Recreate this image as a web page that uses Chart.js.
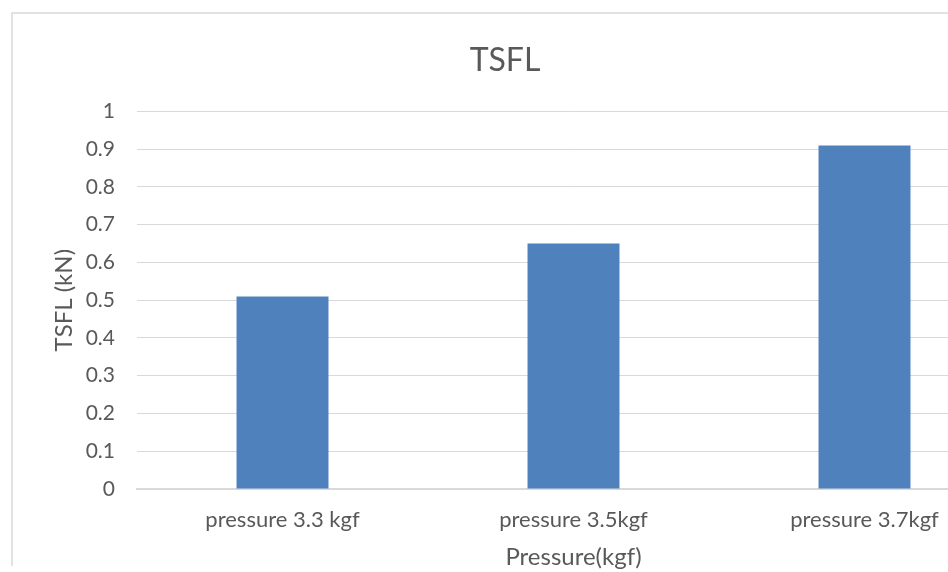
<!DOCTYPE html>
<html>
<head>
<meta charset="utf-8">
<script src="https://cdn.jsdelivr.net/npm/chart.js@4/dist/chart.umd.min.js"></script>
<style>
  html, body { margin: 0; padding: 0; background: #fff; overflow: hidden; }
  #wrap { width: 948px; height: 572px; overflow: hidden; }
</style>
</head>
<body>
<div id="wrap"><canvas id="chart" width="1030" height="572"></canvas></div>
<script>
// --- data ---
const categories = ["pressure 3.3 kgf", "pressure 3.5kgf", "pressure 3.7kgf"];
const tsfl = [0.51, 0.65, 0.91];
const yMin = 0;
const yMax = 1;
const yStep = 0.1;

const TEXT = "#595959";
const GRID = "#d9d9d9";
const FONT = "Lato";

// chart frame (Excel-like border, only top + left visible in crop)
const frame = {
  id: "frame",
  beforeDraw(chart) {
    const c = chart.ctx;
    c.save();
    c.strokeStyle = GRID;
    c.lineWidth = 1.5;
    c.beginPath();
    c.moveTo(12, 566);
    c.lineTo(12, 13);
    c.lineTo(1030, 13);
    c.stroke();
    c.restore();
  }
};

new Chart(document.getElementById("chart").getContext("2d"), {
  type: "bar",
  data: {
    labels: categories,
    datasets: [{
      label: "TSFL",
      data: tsfl,
      backgroundColor: "#4f81bd",
      borderWidth: 0,
      categoryPercentage: 1,
      barPercentage: 0.316
    }]
  },
  options: {
    responsive: false,
    animation: false,
    layout: { padding: { left: 0, right: 20, top: 13, bottom: 0 } },
    plugins: {
      legend: { display: false },
      tooltip: { enabled: false },
      title: {
        display: true,
        text: "TSFL",
        color: TEXT,
        font: { family: FONT, size: 32, weight: "normal" },
        padding: { top: 28, bottom: 32 }
      }
    },
    scales: {
      x: {
        grid: { display: false, drawTicks: false },
        border: { display: true, color: GRID, width: 2 },
        ticks: { color: TEXT, font: { family: FONT, size: 22 }, padding: 18, maxRotation: 0, autoSkip: false },
        title: {
          display: true,
          text: "Pressure(kgf)",
          color: TEXT,
          font: { family: FONT, size: 24 },
          padding: { top: 0, bottom: 0 }
        },
        afterFit(scale) { scale.height = 572 - 489; }
      },
      y: {
        min: yMin,
        max: yMax,
        grid: { color: GRID, lineWidth: 1, drawTicks: false },
        border: { display: false },
        ticks: {
          stepSize: yStep,
          color: TEXT,
          font: { family: FONT, size: 21 },
          padding: 22,
          callback: (v) => String(Math.round(v * 10) / 10)
        },
        title: {
          display: true,
          text: "TSFL (kN)",
          color: TEXT,
          font: { family: FONT, size: 24 },
          padding: { top: 50, bottom: 0 }
        },
        afterFit(scale) { scale.width = 137; }
      }
    }
  },
  plugins: [frame]
});
</script>
</body>
</html>
